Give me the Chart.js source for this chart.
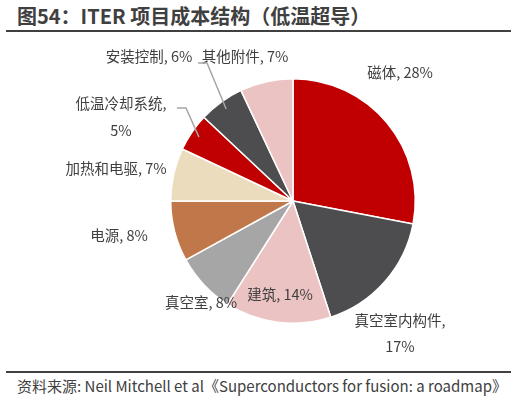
<!DOCTYPE html><html><head><meta charset="utf-8">
<script src="https://cdn.jsdelivr.net/npm/chart.js@4"></script>
<style>body{margin:0;width:516px;height:412px;background:#fff;position:relative;overflow:hidden;font-family:"Noto Sans CJK SC",sans-serif}
#t{position:absolute;left:17px;top:1px;font-size:20px;font-weight:bold;color:#404040;white-space:nowrap}
#l1{position:absolute;left:6px;top:30px;width:505px;height:2px;background:#404040}
#l2{position:absolute;left:6px;top:371px;width:505px;height:2px;background:#404040}
#s{position:absolute;left:17px;top:375px;font-size:15px;color:#404040;white-space:nowrap}
#c{position:absolute;left:0;top:0}</style></head><body>
<div id="t">图54：ITER 项目成本结构（低温超导）</div><div id="l1"></div><div id="l2"></div>
<div id="s">资料来源: Neil Mitchell et al《Superconductors for fusion: a roadmap》</div>
<canvas id="c" width="516" height="370"></canvas>
<script>
const categories=["磁体","真空室内构件","建筑","真空室","电源","加热和电驱","低温冷却系统","安装控制","其他附件"];
const values=[28,17,14,8,8,7,5,6,7];
const colors=["#C00000","#4D4D4F","#EBC3C3","#A6A6A6","#C0784A","#EBDCBE","#C00000","#4D4D4F","#EBC3C3"];
const labelPos=[[[400,72],"磁体, 28%"],[[400,320],"真空室内构件,",[400,346],"17%"],[[280,294],"建筑, 14%"],[[201,302],"真空室, 8%"],[[119,235],"电源, 8%"],[[116,168],"加热和电驱, 7%"],[[121,103],"低温冷却系统,",[121,130],"5%"],[[149,56],"安装控制, 6%"],[[245,56],"其他附件, 7%"]];
const labels={id:'lbl',afterDraw(ch){const x=ch.ctx;x.save();x.font='14.5px "Noto Sans CJK SC"';x.fillStyle='#404040';x.textAlign='center';x.textBaseline='middle';
labelPos.forEach(p=>{for(let i=0;i<p.length;i+=2)x.fillText(p[i+1],p[i][0],p[i][1]);});
const arcs=ch.getDatasetMeta(0).data;
function lead(idx,pts){const a=arcs[idx];const m=(a.startAngle+a.endAngle)/2;const r=a.outerRadius*0.93;
x.strokeStyle='#A6A6A6';x.lineWidth=1.5;x.beginPath();x.moveTo(pts[0][0],pts[0][1]);for(let k=1;k<pts.length;k++)x.lineTo(pts[k][0],pts[k][1]);x.lineTo(a.x+Math.cos(m)*r,a.y+Math.sin(m)*r);x.stroke();}
lead(7,[[198,63],[207,63]]);lead(6,[[177,108],[186,108]]);
x.restore();}};
new Chart(document.getElementById('c'),{type:'pie',data:{labels:categories,datasets:[{data:values,backgroundColor:colors,borderColor:'#fff',borderWidth:1.5}]},
options:{responsive:false,animation:false,layout:{padding:{top:76,bottom:44,left:170,right:100}},plugins:{legend:{display:false},tooltip:{enabled:false}}},plugins:[labels]});
</script></body></html>
